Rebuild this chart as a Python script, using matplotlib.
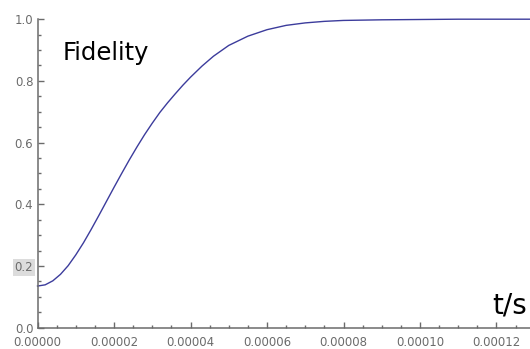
import numpy as np
import matplotlib.pyplot as plt
from matplotlib.ticker import MultipleLocator

# Fidelity, time in units of 1e-5 s
t_1e5 = [0, 0.2, 0.4, 0.6, 0.8, 1.0, 1.2, 1.4, 1.6, 1.8, 2.0, 2.2, 2.4, 2.6,
         2.8, 3.0, 3.2, 3.4, 3.6, 3.8, 4.0, 4.3, 4.6, 5.0, 5.5, 6.0, 6.5,
         7.0, 7.5, 8.0, 9.0, 10.0, 11.0, 12.0, 12.9]
fidelity = [0.135, 0.139, 0.152, 0.173, 0.201, 0.236, 0.275, 0.318, 0.363,
            0.409, 0.455, 0.500, 0.544, 0.586, 0.626, 0.663, 0.698, 0.729,
            0.758, 0.786, 0.812, 0.848, 0.880, 0.915, 0.945, 0.966, 0.980,
            0.988, 0.993, 0.996, 0.998, 0.999, 1.0, 1.0, 1.0]

x_ticks = [0, 2e-5, 4e-5, 6e-5, 8e-5, 1e-4, 1.2e-4]
x_labels = ['0.00000', '0.00002', '0.00004', '0.00006', '0.00008', '0.00010', '0.00012']
y_ticks = [0.0, 0.2, 0.4, 0.6, 0.8, 1.0]
y_labels = ['0.0', '0.2', '0.4', '0.6', '0.8', '1.0']

GRAY = '#6b6b6b'
LINE = '#3c3c9c'

fig = plt.figure(figsize=(5.3, 3.49), dpi=100)
ax = fig.add_axes([0.0708, 0.061, 0.9292, 0.884])

t = np.array(t_1e5) * 1e-5
ax.plot(t, fidelity, color=LINE, linewidth=1.0, clip_on=False)

ax.set_xlim(0, 1.2876e-4)
ax.set_ylim(0, 1.0)

ax.set_xticks(x_ticks, x_labels)
ax.set_yticks(y_ticks, y_labels)
ax.xaxis.set_minor_locator(MultipleLocator(0.5e-5))
ax.yaxis.set_minor_locator(MultipleLocator(0.05))

ax.tick_params(which='both', direction='in', color=GRAY, width=1.0,
               labelcolor=GRAY, labelsize=8.5)
ax.tick_params(which='major', length=4.3)
ax.tick_params(which='minor', length=2.2)
ax.tick_params(axis='x', pad=6)
ax.tick_params(axis='y', pad=3)

for side in ['top', 'right']:
    ax.spines[side].set_visible(False)
for side in ['left', 'bottom']:
    ax.spines[side].set_color(GRAY)
    ax.spines[side].set_linewidth(1.1)

# grey highlight behind the 0.2 label
ax.get_yticklabels()[1].set_bbox(dict(facecolor='#dcdcdc', edgecolor='none', pad=1.5))

fig.text(63 / 530, 1 - 60 / 349, 'Fidelity', fontsize=17.5, color='black',
         ha='left', va='baseline')
fig.text(492 / 530, 1 - 313 / 349, 't/s', fontsize=20, color='black',
         ha='left', va='baseline')

fig.savefig('out.png', dpi=100)
